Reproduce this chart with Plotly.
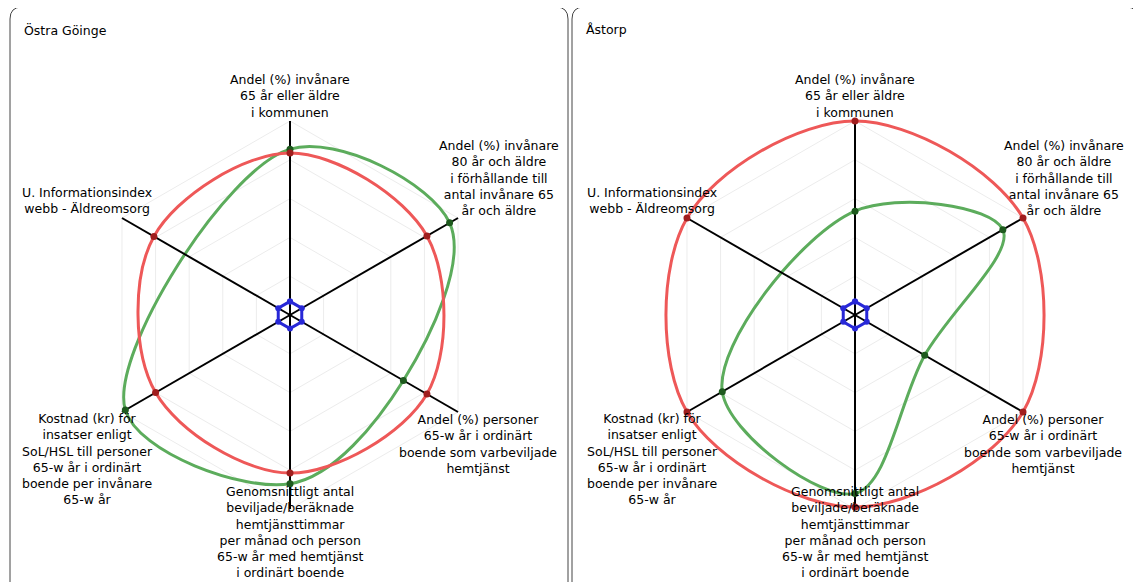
import plotly.graph_objects as go

W, H = 1141, 582
OFF = 8  # page body margin compensation (px)

categories = [
    "Andel (%) invånare<br>65 år eller äldre<br>i kommunen",
    "Andel (%) invånare<br>80 år och äldre<br>i förhållande till<br>antal invånare 65<br>år och äldre",
    "Andel (%) personer<br>65-w år i ordinärt<br>boende som varbeviljade<br>hemtjänst",
    "Genomsnittligt antal<br>beviljade/beräknade<br>hemtjänsttimmar<br>per månad och person<br>65-w år med hemtjänst<br>i ordinärt boende",
    "Kostnad (kr) för<br>insatser enligt<br>SoL/HSL till personer<br>65-w år i ordinärt<br>boende per invånare<br>65-w år",
    "U. Informationsindex<br>webb - Äldreomsorg",
]
theta_keys = ["c0", "c1", "c2", "c3", "c4", "c5"]

panel_titles = ["Östra Göinge", "Åstorp"]

# values (0..1 scale), None = missing
red_ostra = [0.835, 0.815, 0.815, 0.815, 0.80, 0.81]
green_ostra = [0.855, 0.95, 0.675, 0.87, 0.98, None]
red_astorp = [1.0, 1.0, 1.0, 0.99, 1.0, 1.0]
green_astorp = [0.535, 0.88, 0.415, 0.92, 0.79, None]
blue_center = [0.07, 0.07, 0.07, 0.07, 0.07, 0.07]
spoke_r = [0, 1.0]
grid_levels = [0.2, 0.4, 0.6, 0.8, 1.0]
RMAX = 1.2

# layout geometry (pixels, in screenshot coordinates)
centers = [(290, 315), (855, 315)]
R = 194  # pixel length of value 1.0
# label centre offsets from chart centre (dx, dy) in px
label_offsets = [(0, -219), (209, -137), (188, 129), (0, 217), (-203, 144), (-203, -114)]

RED = "rgb(238,88,88)"
RED_DOT = "rgb(160,30,30)"
GREEN = "rgb(92,172,92)"
GREEN_DOT = "rgb(30,90,30)"
BLUE = "rgb(40,40,215)"
FONT = "DejaVu Sans"
FS = 12.5


def closed(vals):
    return list(vals) + [vals[0]]


def px(x):
    return (x - OFF) / W


def py(y):
    return 1 - (y - OFF) / H


fig = go.Figure()
series = [(red_ostra, green_ostra), (red_astorp, green_astorp)]
for i, (red, green) in enumerate(series):
    sp = "polar" if i == 0 else "polar2"
    th = closed(theta_keys)
    fig.add_trace(go.Scatterpolar(r=closed(green), theta=th, subplot=sp, mode="lines",
                                  connectgaps=True, line=dict(color=GREEN, width=3, shape="spline"),
                                  hoverinfo="skip", showlegend=False))
    fig.add_trace(go.Scatterpolar(r=closed(red), theta=th, subplot=sp, mode="lines",
                                  connectgaps=True, line=dict(color=RED, width=3, shape="spline"),
                                  hoverinfo="skip", showlegend=False))
    for k in theta_keys:
        fig.add_trace(go.Scatterpolar(r=spoke_r, theta=[k, k], subplot=sp, mode="lines",
                                      line=dict(color="black", width=2), hoverinfo="skip",
                                      showlegend=False))
    fig.add_trace(go.Scatterpolar(r=green, theta=theta_keys, subplot=sp, mode="markers",
                                  marker=dict(color=GREEN_DOT, size=7), hoverinfo="skip",
                                  showlegend=False))
    fig.add_trace(go.Scatterpolar(r=red, theta=theta_keys, subplot=sp, mode="markers",
                                  marker=dict(color=RED_DOT, size=7), hoverinfo="skip",
                                  showlegend=False))
    fig.add_trace(go.Scatterpolar(r=closed(blue_center), theta=closed(theta_keys), subplot=sp,
                                  mode="lines+markers",
                                  line=dict(color=BLUE, width=3, shape="linear"),
                                  marker=dict(color=BLUE, size=6), hoverinfo="skip", showlegend=False))


def polar_layout(cx, cy):
    Rf = R * RMAX
    return dict(
        domain=dict(x=[px(cx - Rf), px(cx + Rf)], y=[py(cy + Rf), py(cy - Rf)]),
        bgcolor="rgba(0,0,0,0)",
        gridshape="linear",
        radialaxis=dict(range=[0, RMAX], tickvals=grid_levels, showticklabels=False, ticks="",
                        showline=False, gridcolor="#ececec", gridwidth=1),
        angularaxis=dict(type="category", categoryarray=theta_keys, direction="clockwise",
                         rotation=90, showticklabels=False, ticks="", showline=False,
                         showgrid=False),
    )


shapes = []
annotations = []
panels = [(10, 568), (572, 1138)]
rad = 12
top = 7
for pi, (x0, x1) in enumerate(panels):
    bottom = H + 40
    path = (f"M {px(x0)},{py(bottom)} L {px(x0)},{py(top + rad)} "
            f"Q {px(x0)},{py(top)} {px(x0 + rad)},{py(top)} "
            f"L {px(x1 - rad)},{py(top)} Q {px(x1)},{py(top)} {px(x1)},{py(top + rad)} "
            f"L {px(x1)},{py(bottom)}")
    shapes.append(dict(type="path", xref="paper", yref="paper", path=path,
                       line=dict(color="#444444", width=1)))
    annotations.append(dict(text=panel_titles[pi], xref="paper", yref="paper",
                            x=px(x0 + 12), y=py(30), xanchor="left", yanchor="middle",
                            showarrow=False, font=dict(family=FONT, size=FS, color="black")))
    cx, cy = centers[pi]
    for lab, (dx, dy) in zip(categories, label_offsets):
        annotations.append(dict(text=lab, xref="paper", yref="paper",
                                x=px(cx + dx), y=py(cy + dy),
                                xanchor="center", yanchor="middle", align="center",
                                showarrow=False, font=dict(family=FONT, size=FS, color="black")))

fig.update_layout(
    width=W, height=H,
    margin=dict(l=0, r=0, t=0, b=0),
    paper_bgcolor="white",
    plot_bgcolor="white",
    polar=polar_layout(*centers[0]),
    polar2=polar_layout(*centers[1]),
    shapes=shapes,
    annotations=annotations,
    showlegend=False,
)

fig.write_html("out.html")
